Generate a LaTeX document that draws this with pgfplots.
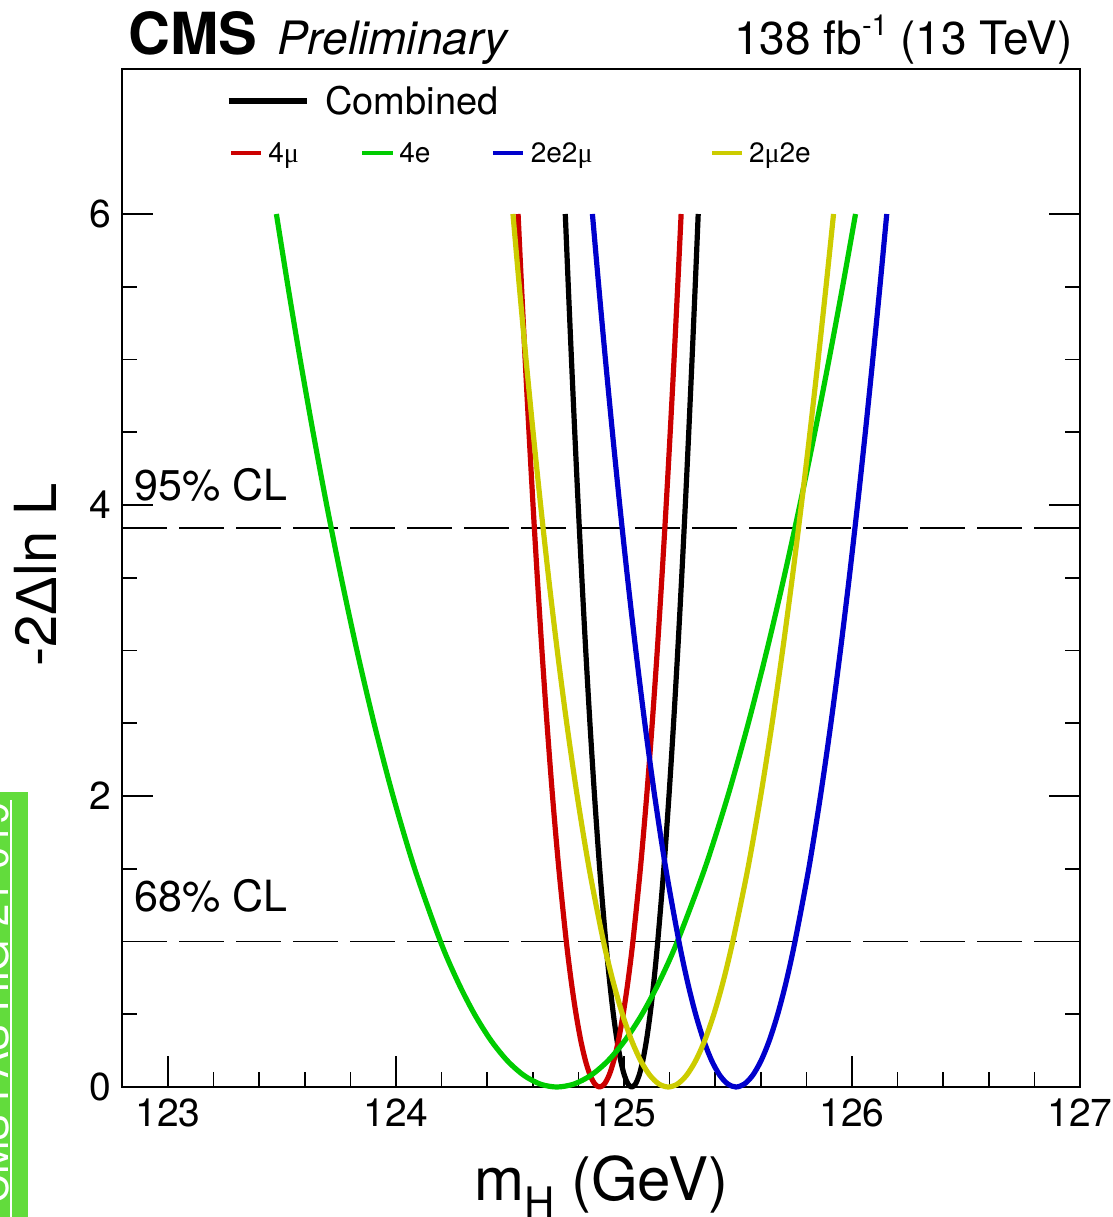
\documentclass[border=0pt]{standalone}
\usepackage{fontspec}
\setmainfont{TeX Gyre Heros}
\newfontfamily\grk{Liberation Sans}
\newfontfamily\grkserif{Liberation Serif}
\usepackage{pgfplots}
\pgfplotsset{compat=1.18}

\definecolor{chred}{RGB}{204,0,0}
\definecolor{chgreen}{RGB}{0,204,0}
\definecolor{chblue}{RGB}{0,0,204}
\definecolor{chyellow}{RGB}{204,204,0}
\definecolor{pasgreen}{RGB}{98,220,60}

\newcommand{\fs}[1]{\fontsize{#1}{#1}\selectfont}
\newcommand{\mutxt}{{\grkserif μ}}

% likelihood scans, -2 Delta ln L versus m_H
\pgfplotstableread{
m nll
124.7425 6
124.7558 5.5
124.7696 5
124.7840 4.5
124.7991 4
124.8151 3.5
124.8322 3
124.8506 2.5
124.8708 2
124.8934 1.5
124.9200 1
124.9373 0.72
124.9534 0.5
124.9695 0.32
124.9856 0.18
125.0018 0.08
125.0179 0.02
125.0340 0
125.0501 0.02
125.0662 0.08
125.0824 0.18
125.0985 0.32
125.1146 0.5
125.1307 0.72
125.1480 1
125.1746 1.5
125.1972 2
125.2174 2.5
125.2358 3
125.2529 3.5
125.2689 4
125.2840 4.5
125.2984 5
125.3122 5.5
125.3255 6
}\combined

\pgfplotstableread{
m nll
124.5354 6
124.5506 5.5
124.5665 5
124.5833 4.5
124.6010 4
124.6199 3.5
124.6401 3
124.6622 2.5
124.6865 2
124.7142 1.5
124.7470 1
124.7691 0.72
124.7898 0.5
124.8104 0.32
124.8311 0.18
124.8517 0.08
124.8724 0.02
124.8930 0
124.9136 0.02
124.9343 0.08
124.9550 0.18
124.9756 0.32
124.9962 0.5
125.0169 0.72
125.0390 1
125.0718 1.5
125.0995 2
125.1238 2.5
125.1459 3
125.1661 3.5
125.1850 4
125.2027 4.5
125.2195 5
125.2354 5.5
125.2506 6
}\fourmu

\pgfplotstableread{
m nll
123.4754 6
123.5264 5.5
123.5798 5
123.6363 4.5
123.6960 4
123.7599 3.5
123.8286 3
123.9037 2.5
123.9870 2
124.0819 1.5
124.1950 1
124.2723 0.72
124.3444 0.5
124.4165 0.32
124.4886 0.18
124.5608 0.08
124.6329 0.02
124.7050 0
124.7798 0.02
124.8546 0.08
124.9295 0.18
125.0043 0.32
125.0791 0.5
125.1539 0.72
125.2340 1
125.3540 1.5
125.4555 2
125.5452 2.5
125.6265 3
125.7014 3.5
125.7713 4
125.8370 4.5
125.8993 5
125.9587 5.5
126.0155 6
}\foure

\pgfplotstableread{
m nll
124.8615 6
124.8895 5.5
124.9186 5
124.9492 4.5
124.9813 4
125.0154 3.5
125.0519 3
125.0913 2.5
125.1346 2
125.1835 1.5
125.2410 1
125.2789 0.72
125.3142 0.5
125.3496 0.32
125.3849 0.18
125.4203 0.08
125.4557 0.02
125.4910 0
125.5276 0.02
125.5643 0.08
125.6009 0.18
125.6375 0.32
125.6741 0.5
125.7108 0.72
125.7500 1
125.8103 1.5
125.8617 2
125.9075 2.5
125.9492 3
125.9879 3.5
126.0242 4
126.0585 4.5
126.0911 5
126.1224 5.5
126.1524 6
}\twoetwomu

\pgfplotstableread{
m nll
124.5130 6
124.5410 5.5
124.5704 5
124.6014 4.5
124.6343 4
124.6694 3.5
124.7073 3
124.7488 2.5
124.7948 2
124.8473 1.5
124.9100 1
124.9530 0.72
124.9932 0.5
125.0333 0.32
125.0735 0.18
125.1137 0.08
125.1538 0.02
125.1940 0
125.2340 0.02
125.2740 0.08
125.3141 0.18
125.3541 0.32
125.3941 0.5
125.4341 0.72
125.4770 1
125.5431 1.5
125.5995 2
125.6497 2.5
125.6956 3
125.7381 3.5
125.7779 4
125.8157 4.5
125.8516 5
125.8860 5.5
125.9191 6
}\twomutwoe

\begin{document}
\begin{tikzpicture}
\useasboundingbox (-61.2pt,-65pt) rectangle (495.3pt,543.5pt);

% document tag on the left margin
\fill[pasgreen] (-70pt,147.5pt) rectangle (-47.2pt,-75pt);
\draw[white, line width=0.8pt] (-55.7pt,143.5pt) -- (-55.7pt,-70pt);
\node[rotate=90, anchor=base east, inner sep=0pt, text=white, font=\fs{20}]
  at (-57pt,142.5pt) {CMS-PAS-HIG-21-019};

\begin{axis}[
  at={(0,0)}, anchor=south west,
  width=478.8pt, height=509.25pt, scale only axis,
  clip=false,
  xmin=122.8, xmax=127, ymin=0, ymax=7,
  xtick={123,124,125,126,127}, minor x tick num=4,
  ytick={0,2,4,6}, minor y tick num=3,
  xtick pos=left, ytick pos=both,
  tick align=inside,
  major tick length=15.5pt, minor tick length=7.5pt,
  axis line style={line width=1pt},
  tick style={black, line width=0.8pt},
  tick label style={font=\fs{19.5}},
  /pgf/number format/assume math mode=true,
  xticklabel style={inner sep=0pt, yshift=-5.5pt},
  yticklabel style={inner sep=0pt, xshift=-5.3pt},
  every axis plot/.append style={line join=round},
]

% confidence-level thresholds
\addplot[black, line width=0.8pt, dash pattern=on 22.5pt off 6pt]
  coordinates {(122.8,3.84) (127,3.84)};
\addplot[black, line width=0.8pt, dash pattern=on 22.5pt off 6pt]
  coordinates {(122.8,1) (127,1)};

% scans
\addplot[black,     line width=2.6pt, smooth] table[x=m, y=nll] {\combined};
\addplot[chred,     line width=2.6pt, smooth] table[x=m, y=nll] {\fourmu};
\addplot[chgreen,   line width=2.6pt, smooth] table[x=m, y=nll] {\foure};
\addplot[chblue,    line width=2.6pt, smooth] table[x=m, y=nll] {\twoetwomu};
\addplot[chyellow,  line width=2.6pt, smooth] table[x=m, y=nll] {\twomutwoe};

\node[anchor=base west, inner sep=0pt, font=\fs{21.5}] at (axis cs:122.851,4.034) {95\% CL};
\node[anchor=base west, inner sep=0pt, font=\fs{21.5}] at (axis cs:122.851,1.205) {68\% CL};

% legend
\draw[black, line width=3.2pt] (axis description cs:0.1109,0.968) -- (axis description cs:0.1929,0.968);
\node[anchor=base west, inner sep=0pt, font=\fs{19}, yshift=-6.8pt] at (axis description cs:0.2116,0.968) {Combined};

\draw[chred, line width=2.4pt] (axis description cs:0.1138,0.917) -- (axis description cs:0.1444,0.917);
\node[anchor=base west, inner sep=0pt, font=\fs{14}, yshift=-4.7pt] at (axis description cs:0.1519,0.917) {4\mutxt};
\draw[chgreen, line width=2.4pt] (axis description cs:0.2507,0.917) -- (axis description cs:0.2825,0.917);
\node[anchor=base west, inner sep=0pt, font=\fs{14}, yshift=-4.7pt] at (axis description cs:0.2887,0.917) {4e};
\draw[chblue, line width=2.4pt] (axis description cs:0.3869,0.917) -- (axis description cs:0.4185,0.917);
\node[anchor=base west, inner sep=0pt, font=\fs{14}, yshift=-4.7pt] at (axis description cs:0.4261,0.917) {2e2\mutxt};
\draw[chyellow, line width=2.4pt] (axis description cs:0.6161,0.917) -- (axis description cs:0.6475,0.917);
\node[anchor=base west, inner sep=0pt, font=\fs{14}, yshift=-4.7pt] at (axis description cs:0.6540,0.917) {2\mutxt 2e};

% header
\node[anchor=base west, inner sep=0pt, font=\fs{29}\bfseries, yshift=7.25pt] at (axis description cs:0.0058,1) {CMS};
\node[anchor=base west, inner sep=0pt, font=\fs{23}\itshape, yshift=7.25pt] at (axis description cs:0.1613,1) {Preliminary};
\node[anchor=base east, inner sep=0pt, font=\fs{23}, yshift=7.25pt] at (axis description cs:0.9927,1)
  {138 fb\raisebox{0.75ex}{\fs{14.5}-1} (13 TeV)};

% axis titles
\node[anchor=base, inner sep=0pt, font=\fs{30}, yshift=-56.5pt] at (axis description cs:0.5,0)
  {m\raisebox{-8.5pt}{\fs{21}H} (GeV)};
\node[anchor=base, rotate=90, inner sep=0pt, font=\fs{29}]
  at ([xshift=-32.7pt]axis description cs:0,0.503) {-2{\grk Δ}ln L};
\end{axis}
\end{tikzpicture}
\end{document}
